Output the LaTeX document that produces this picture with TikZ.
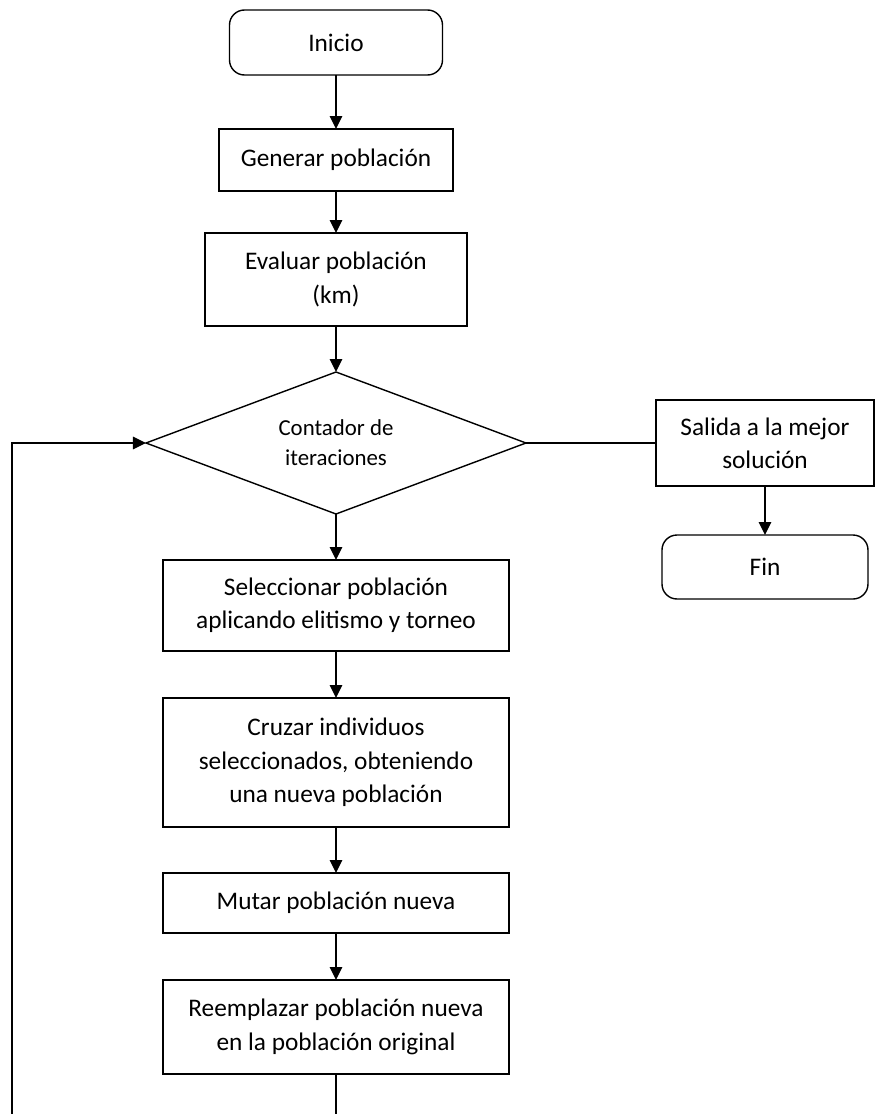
\documentclass[tikz,border=0pt]{standalone}
\usepackage{fontspec}
\setmainfont{Carlito}
\usetikzlibrary{arrows.meta,positioning,shapes.geometric,calc}
\tikzset{
  fb/.style={draw, align=center, font=\fontsize{14.4}{19}\selectfont,
             inner sep=3pt, outer sep=0pt, line width=0.8pt, fill=white},
  fterm/.style={fb, rounded corners=3mm},
  fdec/.style={fb, diamond, aspect=2.7, inner sep=0pt,
               font=\fontsize{13}{17}\selectfont},
  ar/.style={-{Triangle[length=2.6mm,width=2.5mm]}, line width=0.8pt},
  ln/.style={line width=0.8pt},
}
\begin{document}
\begin{tikzpicture}
  \useasboundingbox (-67.2mm,8.5mm) rectangle (108mm,-214.3mm);
  % main column
  \node[fterm, minimum width=42.6mm, minimum height=13mm] (inicio) {Inicio};
  \node[fb, minimum width=46.8mm, minimum height=12.4mm, below=10.8mm of inicio] (gen) {Generar población};
  \node[fb, minimum width=52.4mm, minimum height=18.6mm, below=8.4mm of gen] (eval) {Evaluar población\\(km)};
  \node[fdec, minimum width=76mm, minimum height=28.4mm, below=9.2mm of eval] (cont) {Contador de\\iteraciones};
  \node[fb, minimum width=69.2mm, minimum height=18.2mm, below=9.2mm of cont] (sel) {Seleccionar población\\aplicando elitismo y torneo};
  \node[fb, minimum width=69.2mm, minimum height=25.8mm, below=9.4mm of sel] (cruce) {Cruzar individuos\\seleccionados, obteniendo\\una nueva población};
  \node[fb, minimum width=69.2mm, minimum height=12mm, below=9.2mm of cruce] (mut) {Mutar población nueva};
  \node[fb, minimum width=69.2mm, minimum height=18.8mm, below=9.4mm of mut] (reemp) {Reemplazar población nueva\\en la población original};
  % exit branch
  \node[fb, minimum width=43.6mm, minimum height=17.2mm, right=26mm of cont] (salida) {Salida a la mejor\\solución};
  \node[fterm, minimum width=41.2mm, minimum height=12.8mm, below=9.8mm of salida] (fin) {Fin};

  \draw[ar] (inicio) -- (gen);
  \draw[ar] (gen) -- (eval);
  \draw[ar] (eval) -- (cont);
  \draw[ar] (cont) -- (sel);
  \draw[ar] (sel) -- (cruce);
  \draw[ar] (cruce) -- (mut);
  \draw[ar] (mut) -- (reemp);
  \draw[ln] (cont) -- (salida);
  \draw[ar] (salida) -- (fin);

  % loop back
  \coordinate (loopfoot) at (-64.8mm,-214.3mm);
  \coordinate (tail) at (reemp.south |- loopfoot);
  \draw[ln] (reemp) -- (tail);
  \draw[ar] (loopfoot) |- (cont.west);
\end{tikzpicture}
\end{document}
